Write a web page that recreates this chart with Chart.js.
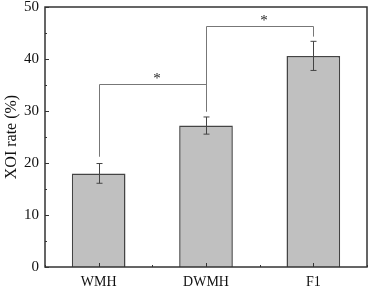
<!DOCTYPE html>
<html>
<head>
<meta charset="utf-8">
<script src="https://cdn.jsdelivr.net/npm/chart.js@4/dist/chart.umd.min.js"></script>
<style>
  html, body { margin: 0; padding: 0; background: #fff; }
  #wrap { width: 369px; height: 289px; }
</style>
</head>
<body>
<div id="wrap"><canvas id="xoi-chart" width="369" height="289"></canvas></div>
<script>
// Chart data
const categories = ['WMH', 'DWMH', 'F1'];
const rates = [18.0, 27.2, 40.6];
const errors = [1.9, 1.65, 2.8];
const yTicks = [0, 10, 20, 30, 40, 50];

// significance brackets: from bar, to bar, top height, left foot, right foot
const bracketFrom = [0, 1];
const bracketTo = [1, 2];
const bracketTop = [35.1, 46.3];
const bracketLeftFoot = [21.2, 29.9];
const bracketRightFoot = [29.9, 44.3];
const bracketMark = ['*', '*'];

const serif = "'Liberation Serif', 'DejaVu Serif', serif";

// frame, inward ticks, error bars and brackets
const extrasPlugin = {
    id: 'extras',
    afterDatasetsDraw(chart) {
        const ctx = chart.ctx;
        const x = chart.scales.x;
        const y = chart.scales.y;
        const area = chart.chartArea;

        // error bars
        ctx.save();
        ctx.strokeStyle = '#444';
        ctx.lineWidth = 1;
        rates.forEach((v, i) => {
            const cx = Math.round(x.getPixelForValue(i)) + 0.5;
            const yt = y.getPixelForValue(v + errors[i]);
            const yb = y.getPixelForValue(v - errors[i]);
            ctx.beginPath();
            ctx.moveTo(cx, yt); ctx.lineTo(cx, yb);
            ctx.moveTo(cx - 3, yt); ctx.lineTo(cx + 3, yt);
            ctx.moveTo(cx - 3, yb); ctx.lineTo(cx + 3, yb);
            ctx.stroke();
        });

        // brackets
        ctx.strokeStyle = '#777';
        ctx.fillStyle = '#222';
        ctx.font = '15px ' + serif;
        ctx.textAlign = 'center';
        ctx.textBaseline = 'middle';
        bracketFrom.forEach((from, i) => {
            const x1 = Math.round(x.getPixelForValue(from)) + 0.5;
            const x2 = Math.round(x.getPixelForValue(bracketTo[i])) + 0.5;
            const yt = Math.round(y.getPixelForValue(bracketTop[i])) + 0.5;
            ctx.beginPath();
            ctx.moveTo(x1, y.getPixelForValue(bracketLeftFoot[i]));
            ctx.lineTo(x1, yt);
            ctx.lineTo(x2, yt);
            ctx.lineTo(x2, y.getPixelForValue(bracketRightFoot[i]));
            ctx.stroke();
            ctx.fillText(bracketMark[i], (x1 + x2) / 2 + 4, yt - 5);
        });

        // frame
        ctx.strokeStyle = '#333';
        ctx.lineWidth = 1.5;
        ctx.strokeRect(area.left, area.top, area.right - area.left, area.bottom - area.top);

        // inward ticks on y axis
        ctx.lineWidth = 1;
        ctx.beginPath();
        for (let v = 0; v <= 50; v += 5) {
            const py = Math.round(y.getPixelForValue(v)) + 0.5;
            const len = v % 10 === 0 ? 4 : 2;
            ctx.moveTo(area.left, py);
            ctx.lineTo(area.left + len, py);
        }
        // inward ticks on x axis: major at bars, minor between
        for (let i = -0.5; i <= categories.length - 0.5; i += 0.5) {
            const px = Math.round(x.getPixelForValue(i)) + 0.5;
            const len = Number.isInteger(i) ? 4 : 2;
            ctx.moveTo(px, area.bottom);
            ctx.lineTo(px, area.bottom - len);
        }
        ctx.stroke();
        ctx.restore();
    }
};

const ctx = document.getElementById('xoi-chart').getContext('2d');
new Chart(ctx, {
    type: 'bar',
    data: {
        labels: categories,
        datasets: [{
            data: rates,
            backgroundColor: '#c0c0c0',
            borderColor: '#444',
            borderWidth: 1.5,
            barPercentage: 0.5,
            categoryPercentage: 1.0
        }]
    },
    options: {
        responsive: false,
        animation: false,
        layout: { padding: { top: 7, right: 2, left: 0, bottom: 0 } },
        plugins: {
            legend: { display: false },
            tooltip: { enabled: false }
        },
        scales: {
            x: {
                grid: { display: false, drawTicks: false },
                border: { display: false },
                ticks: {
                    color: '#111',
                    padding: 7,
                    font: { family: serif, size: 14 }
                },
                afterFit: scale => {
                    scale.height = 22;
                    scale.paddingLeft = 0;
                    scale.paddingRight = 0;
                }
            },
            y: {
                min: 0,
                max: 50,
                afterBuildTicks: scale => {
                    scale.ticks = yTicks.map(v => ({ value: v }));
                },
                grid: { display: false, drawTicks: false },
                border: { display: false },
                ticks: {
                    color: '#111',
                    padding: 6,
                    font: { family: serif, size: 15 }
                },
                title: {
                    display: true,
                    text: 'XOI rate (%)',
                    color: '#111',
                    padding: { top: 2, bottom: 0 },
                    font: { family: serif, size: 16 }
                },
                afterFit: scale => {
                    scale.width = 45;
                    scale.paddingTop = 0;
                    scale.paddingBottom = 0;
                }
            }
        }
    },
    plugins: [extrasPlugin]
});
</script>
</body>
</html>
